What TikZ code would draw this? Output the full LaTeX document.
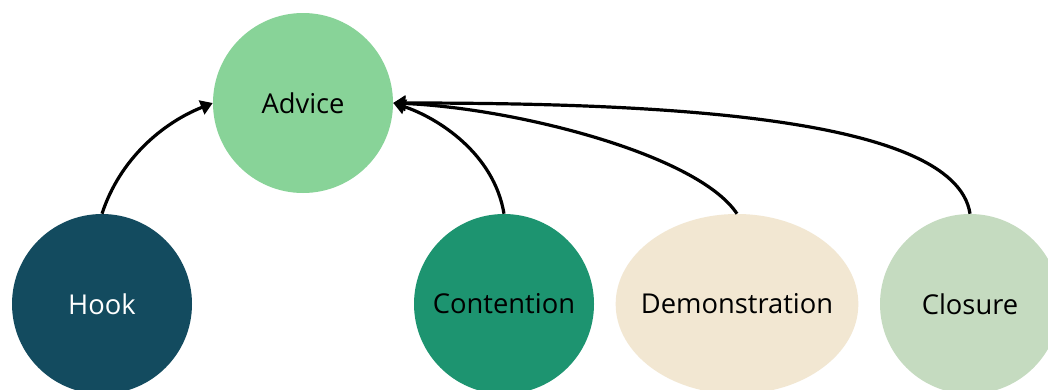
\documentclass[tikz,border=0pt]{standalone}
\usepackage{fontspec}
\setmainfont{Open Sans}
\usetikzlibrary{shapes.geometric,arrows.meta}
\definecolor{advicegreen}{HTML}{88D398}
\definecolor{hookteal}{HTML}{134B5F}
\definecolor{contgreen}{HTML}{1D9470}
\definecolor{democream}{HTML}{F2E7D2}
\definecolor{closuresage}{HTML}{C5DBC0}
\tikzset{
  topic/.style={circle, draw=none, minimum size=135pt, inner sep=0pt,
    font=\fontsize{20.5}{24}\selectfont},
  wide topic/.style={ellipse, draw=none, minimum width=182pt, minimum height=135pt,
    inner sep=0pt, font=\fontsize{20.5}{24}\selectfont},
  link/.style={line width=2.4pt, -{Triangle[length=9pt,width=11pt]}}
}
\begin{document}
\begin{tikzpicture}[x=0.75pt, y=-0.75pt]
  \clip (0,0) rectangle (1048,389);
  \fill[white] (0,0) rectangle (1048,389);

  \node[topic, fill=advicegreen] (advice) at (303,103) {Advice};
  \node[topic, fill=hookteal, text=white] (hook) at (102,304) {Hook};
  \node[topic, fill=contgreen] (contention) at (504,304) {Contention};
  \node[wide topic, fill=democream] (demo) at (737,304) {\makebox[0pt]{Demonstration}};
  \node[topic, fill=closuresage] (closure) at (970,304) {Closure};

  \draw[link] (hook.north) .. controls +(18,-55) and +(-50,20) .. (advice.west);
  \draw[link] (contention.north) .. controls +(-10,-60) and +(45,15) .. (advice.east);
  \draw[link] (demo.north) .. controls +(-40,-60) and +(120,5) .. (advice.east);
  \draw[link] (closure.north) .. controls +(-15,-100) and +(250,0) .. (advice.east);
\end{tikzpicture}
\end{document}
